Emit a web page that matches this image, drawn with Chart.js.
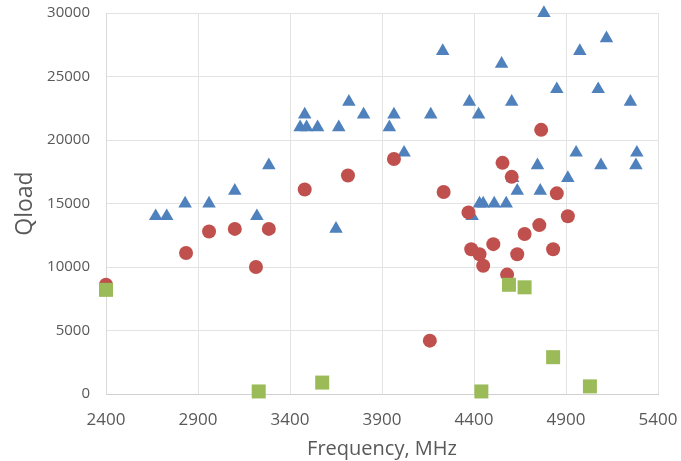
<!DOCTYPE html>
<html>
<head>
<meta charset="utf-8">
<script src="https://cdn.jsdelivr.net/npm/chart.js@4"></script>
<style>
  html, body { margin: 0; padding: 0; background: #fff; }
  #wrap { width: 681px; height: 461px; }
</style>
</head>
<body>
<div id="wrap"><canvas id="qChart" width="681" height="461"></canvas></div>
<script>
// blue triangles
var blueX = [2670, 2730, 2830, 2960, 3100, 3220, 3285, 3455, 3480, 3490, 3550, 3650, 3665,
  3720, 3800, 3940, 3965, 4020, 4165, 4230, 4375, 4390, 4425, 4430, 4450, 4510, 4550, 4575,
  4605, 4610, 4635, 4745, 4760, 4780, 4850, 4910, 4955, 4975, 5075, 5090, 5120, 5250, 5280, 5285];
var blueY = [14000, 14000, 15000, 15000, 16000, 14000, 18000, 21000, 22000, 21000, 21000, 13000, 21000,
  23000, 22000, 21000, 22000, 19000, 22000, 27000, 23000, 14000, 22000, 15000, 15000, 15000, 26000, 15000,
  23000, 17000, 16000, 18000, 16000, 30000, 24000, 17000, 19000, 27000, 24000, 18000, 28000, 23000, 18000, 19000];

// red circles
var redX = [2400, 2835, 2960, 3100, 3215, 3285, 3480, 3715, 3965, 4160, 4235, 4370, 4385, 4430,
  4450, 4505, 4555, 4580, 4605, 4635, 4675, 4755, 4765, 4830, 4850, 4910];
var redY = [8600, 11100, 12800, 13000, 10000, 13000, 16100, 17200, 18500, 4200, 15900, 14300, 11400, 11000,
  10100, 11800, 18200, 9400, 17100, 11000, 12600, 13300, 20800, 11400, 15800, 14000];

// green squares
var greenX = [2400, 3230, 3575, 4440, 4590, 4675, 4830, 5030];
var greenY = [8200, 200, 900, 200, 8600, 8400, 2900, 600];

var xTicks = [2400, 2900, 3400, 3900, 4400, 4900, 5400];

function pairs(xs, ys) {
  var out = [];
  for (var i = 0; i < xs.length; i += 1) {
    out.push({x: xs[i], y: ys[i]});
  }
  return out;
}

var textGrey = '#595959';
var gridGrey = '#e3e3e3';

var ctx = document.getElementById('qChart').getContext('2d');
var chart = new Chart(ctx, {
    type: 'scatter',
    data: {
        datasets: [{
            label: 'blue',
            data: pairs(blueX, blueY),
            order: 3,
            pointStyle: 'triangle',
            pointRadius: 7.8,
            backgroundColor: '#4f81bd',
            borderColor: '#4f81bd',
            borderWidth: 0,
            clip: false
        }, {
            label: 'red',
            data: pairs(redX, redY),
            order: 2,
            pointStyle: 'circle',
            pointRadius: 7,
            backgroundColor: '#c0504d',
            borderColor: '#c0504d',
            borderWidth: 0,
            clip: false
        }, {
            label: 'green',
            data: pairs(greenX, greenY),
            order: 1,
            pointStyle: 'rect',
            pointRadius: 9.9,
            backgroundColor: '#9bbb59',
            borderColor: '#9bbb59',
            borderWidth: 0,
            clip: false
        }]
    },
    options: {
      responsive: false,
      animation: false,
      layout: {
        autoPadding: false,
        padding: {left: 0, right: 23, top: 13, bottom: 0}
      },
      plugins: {
        legend: { display: false },
        tooltip: { enabled: false }
      },
      scales: {
        x: {
          type: 'linear',
          min: 2400,
          max: 5400,
          afterBuildTicks: function(scale) {
            scale.ticks = xTicks.map(function(v) { return {value: v}; });
          },
          afterFit: function(scale) {
            scale.height = 67;
            scale.paddingLeft = 0;
            scale.paddingRight = 0;
          },
          grid: { color: gridGrey, drawTicks: false },
          border: { color: '#d0d0d0' },
          ticks: {
            padding: 16,
            color: textGrey,
            font: { family: 'Open Sans', size: 17 },
            callback: function(v) { return String(v); }
          },
          title: {
            display: true,
            text: 'Frequency, MHz',
            color: textGrey,
            font: { family: 'Open Sans', size: 20 },
            padding: { top: 0, bottom: 0 }
          }
        },
        y: {
          min: 0,
          max: 30000,
          afterFit: function(scale) {
            scale.width = 106;
            scale.paddingTop = 0;
            scale.paddingBottom = 0;
          },
          grid: { color: gridGrey, drawTicks: false },
          border: { color: '#d9d9d9' },
          ticks: {
            stepSize: 5000,
            padding: 16,
            color: textGrey,
            font: { family: 'Open Sans', size: 15 },
            callback: function(v) { return String(v); }
          },
          title: {
            display: true,
            text: 'Qload',
            color: textGrey,
            font: { family: 'Open Sans', size: 23 },
            padding: { top: 12, bottom: 0 }
          }
        }
      }
    }
});
</script>
</body>
</html>
